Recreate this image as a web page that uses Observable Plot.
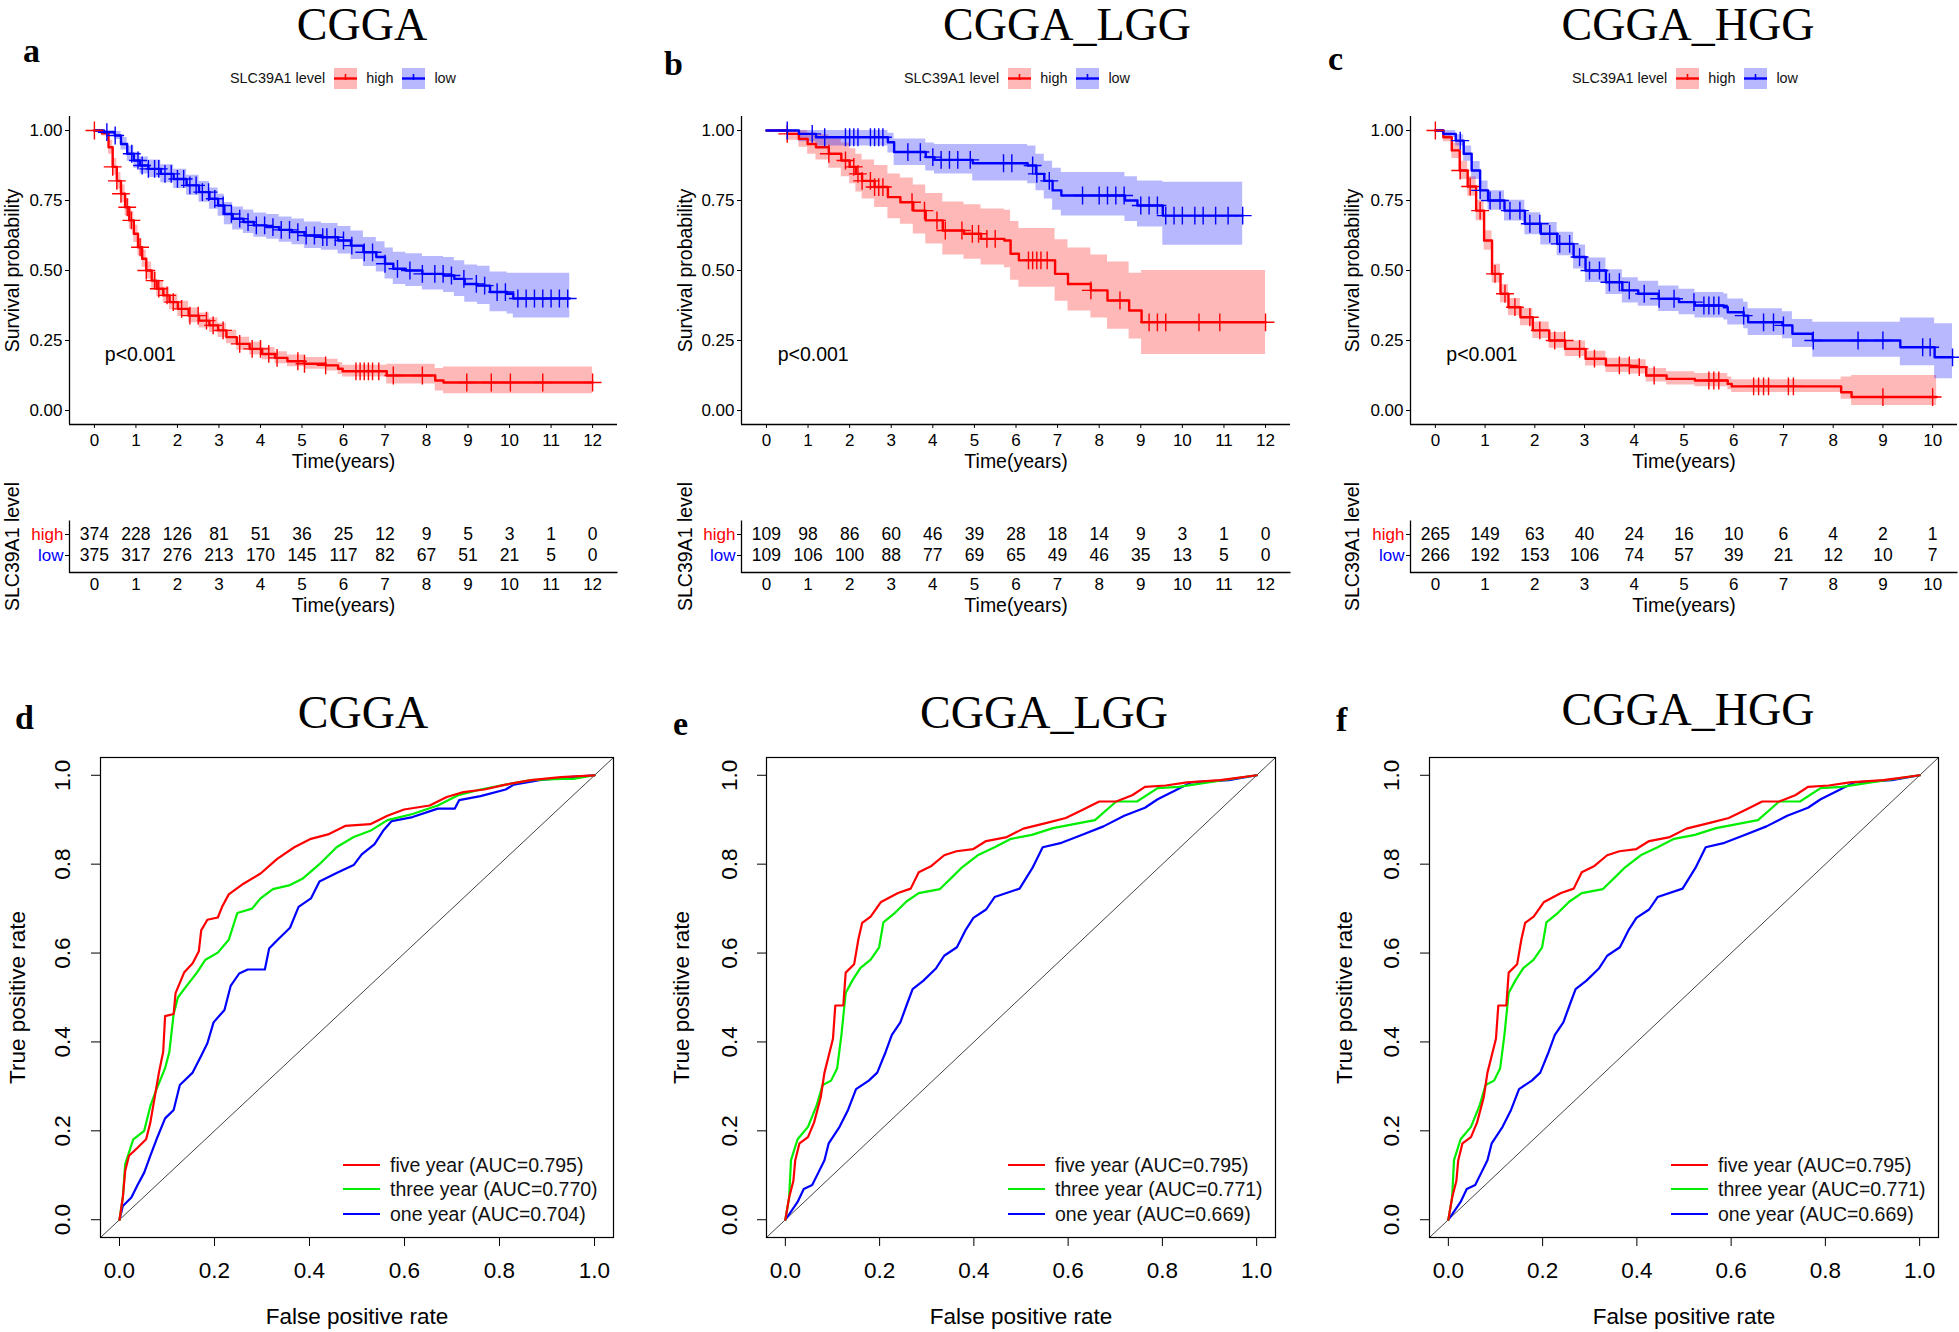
<!DOCTYPE html>
<html><head><meta charset="utf-8">
<script src="https://cdn.jsdelivr.net/npm/d3@7"></script>
<script src="https://cdn.jsdelivr.net/npm/@observablehq/plot@0.6"></script>
<style>
body{margin:0;background:#fff;}
#root{position:relative;width:1959px;height:1332px;background:#fff;overflow:hidden;}
</style></head><body><div id="root"></div>
<script>
// ---------- text ----------
const titles = ["CGGA", "CGGA_LGG", "CGGA_HGG"];
const letters = ["a", "b", "c", "d", "e", "f"];
const groups = ["high", "low"];
const legendTitle = "SLC39A1 level";
const xTitle = "Time(years)";
const yTitleKM = "Survival probability";
const pText = "p<0.001";
const pY = 0.2;
const rocXTitle = "False positive rate";
const rocYTitle = "True positive rate";
const rocLabelsD = ["five year (AUC=0.795)", "three year (AUC=0.770)", "one year (AUC=0.704)"];
const rocLabelsE = ["five year (AUC=0.795)", "three year (AUC=0.771)", "one year (AUC=0.669)"];
const rocLabelsF = ["five year (AUC=0.795)", "three year (AUC=0.771)", "one year (AUC=0.669)"];

// ---------- ticks ----------
const ticks12 = [0,1,2,3,4,5,6,7,8,9,10,11,12];
const ticks10 = [0,1,2,3,4,5,6,7,8,9,10];
const yTicksKM = [0, 0.25, 0.5, 0.75, 1];
const rocTicks = [0, 0.2, 0.4, 0.6, 0.8, 1.0];

// ---------- KM panel a (CGGA) ----------
const kmA_high_t  = [0,0.18,0.34,0.44,0.54,0.64,0.74,0.84,0.95,1.05,1.15,1.25,1.38,1.5,1.66,1.81,2.01,2.27,2.52,2.77,2.98,3.18,3.43,3.74,4.04,4.35,4.65,5.06,5.57,5.87,5.98,7.04,8.21,8.41,12.0];
const kmA_high_s  = [1,0.99,0.94,0.87,0.82,0.774,0.726,0.679,0.631,0.583,0.542,0.50,0.464,0.435,0.411,0.387,0.363,0.339,0.321,0.304,0.286,0.262,0.238,0.22,0.202,0.188,0.176,0.167,0.161,0.149,0.14,0.125,0.107,0.10,0.10];
const kmA_high_lo = [1,0.98,0.915,0.84,0.79,0.743,0.695,0.648,0.60,0.553,0.512,0.47,0.435,0.406,0.383,0.36,0.336,0.313,0.295,0.279,0.261,0.238,0.215,0.198,0.181,0.167,0.156,0.147,0.141,0.129,0.12,0.095,0.07,0.06,0.06];
const kmA_high_hi = [1,1,0.965,0.90,0.85,0.805,0.757,0.71,0.662,0.613,0.572,0.53,0.494,0.464,0.44,0.415,0.39,0.366,0.348,0.33,0.312,0.287,0.262,0.244,0.225,0.21,0.198,0.189,0.183,0.171,0.162,0.165,0.15,0.155,0.155];
const kmA_high_cens = [0,0.44,0.54,0.64,0.79,0.89,1.1,1.25,1.45,1.55,1.75,1.9,2.1,2.3,2.5,2.7,2.86,3.1,3.5,3.8,4.0,4.2,4.4,4.9,5.06,5.57,6.3,6.4,6.5,6.6,6.7,6.85,7.2,7.9,8.97,9.56,10.02,10.8,12.0];
const kmA_low_t  = [0,0.23,0.49,0.64,0.79,0.95,1.1,1.3,1.6,1.91,2.22,2.52,2.77,2.98,3.13,3.33,3.59,3.84,4.15,4.45,4.76,5.06,5.47,5.87,6.18,6.48,6.79,7.0,7.2,7.5,7.9,8.41,8.67,8.92,9.23,9.53,9.94,10.09,11.45];
const kmA_low_s  = [1,0.994,0.982,0.952,0.917,0.893,0.875,0.863,0.845,0.827,0.804,0.78,0.756,0.732,0.702,0.685,0.673,0.661,0.655,0.645,0.637,0.625,0.619,0.607,0.589,0.565,0.548,0.524,0.506,0.50,0.488,0.482,0.47,0.452,0.446,0.423,0.417,0.40,0.40];
const kmA_low_lo = [1,0.986,0.968,0.93,0.89,0.865,0.845,0.832,0.813,0.793,0.769,0.744,0.719,0.694,0.663,0.645,0.632,0.619,0.612,0.601,0.592,0.579,0.572,0.559,0.539,0.514,0.495,0.47,0.45,0.443,0.43,0.421,0.407,0.387,0.379,0.353,0.345,0.33,0.33];
const kmA_low_hi = [1,1,0.996,0.975,0.945,0.922,0.905,0.895,0.878,0.862,0.84,0.818,0.795,0.772,0.743,0.727,0.716,0.705,0.70,0.691,0.684,0.673,0.668,0.657,0.641,0.618,0.603,0.58,0.565,0.56,0.55,0.546,0.535,0.52,0.515,0.495,0.49,0.49,0.49];
const kmA_low_cens = [0.3,0.5,0.9,1.05,1.15,1.3,1.45,1.55,1.7,1.85,2.0,2.15,2.3,2.45,2.6,2.75,2.9,3.1,3.3,3.5,3.7,3.9,4.1,4.3,4.5,4.7,4.9,5.1,5.3,5.5,5.6,5.8,6.0,6.2,6.5,6.7,7.0,7.3,7.6,7.9,8.2,8.4,8.6,8.9,9.2,9.4,9.7,9.9,10.2,10.4,10.6,10.8,11.0,11.2,11.4];

// ---------- KM panel b (CGGA_LGG) ----------
const kmB_high_t  = [0,0.5,0.78,0.99,1.19,1.5,1.8,2.0,2.15,2.3,2.6,2.92,3.22,3.53,3.83,4.24,4.75,5.16,5.72,5.87,6.07,6.94,7.25,7.8,8.2,8.72,9.02,12.0];
const kmB_high_s  = [1,0.988,0.97,0.952,0.94,0.917,0.893,0.87,0.845,0.82,0.798,0.762,0.744,0.714,0.679,0.643,0.631,0.613,0.607,0.56,0.536,0.488,0.452,0.429,0.393,0.357,0.315,0.315];
const kmB_high_lo = [1,0.965,0.94,0.915,0.895,0.865,0.835,0.81,0.78,0.755,0.725,0.685,0.665,0.63,0.595,0.555,0.54,0.52,0.51,0.465,0.44,0.39,0.355,0.33,0.29,0.255,0.20,0.20];
const kmB_high_hi = [1,1,1,0.99,0.985,0.97,0.955,0.935,0.915,0.895,0.875,0.845,0.83,0.805,0.775,0.745,0.735,0.72,0.715,0.675,0.65,0.61,0.58,0.555,0.53,0.49,0.50,0.50];
const kmB_high_cens = [0.5,1.5,1.9,2.1,2.2,2.3,2.5,2.6,2.7,2.8,3.5,3.8,4.1,4.3,4.7,4.95,5.1,5.3,5.5,6.3,6.4,6.5,6.6,6.75,7.8,8.5,9.2,9.4,9.6,10.4,10.9,12.0];
const kmB_low_t  = [0,0.78,1.19,2.92,3.07,3.83,4.04,4.96,6.28,6.48,6.68,6.88,7.09,8.62,8.92,9.53,11.45];
const kmB_low_s  = [1,0.988,0.976,0.958,0.923,0.905,0.895,0.883,0.875,0.845,0.82,0.786,0.768,0.75,0.732,0.696,0.696];
const kmB_low_lo = [1,0.96,0.945,0.92,0.875,0.855,0.845,0.82,0.81,0.785,0.755,0.715,0.695,0.675,0.655,0.59,0.59];
const kmB_low_hi = [1,1,1,0.99,0.97,0.955,0.95,0.95,0.945,0.915,0.89,0.865,0.85,0.835,0.82,0.815,0.815];
const kmB_low_cens = [0.5,1.1,1.4,1.9,2.0,2.1,2.2,2.5,2.6,2.7,2.8,3.4,3.7,4.0,4.2,4.4,4.6,4.9,5.7,5.9,6.4,6.5,6.8,7.6,8.0,8.2,8.4,8.6,9.0,9.2,9.4,9.6,9.8,10.0,10.3,10.5,10.8,11.1,11.45];

// ---------- KM panel c (CGGA_HGG) ----------
const kmC_high_t  = [0,0.16,0.33,0.49,0.65,0.82,0.98,1.14,1.31,1.47,1.71,1.96,2.29,2.61,3.02,3.43,3.92,4.24,4.65,5.22,5.88,5.96,8.16,8.37,10.08];
const kmC_high_s  = [1,0.976,0.929,0.857,0.80,0.714,0.607,0.488,0.417,0.369,0.333,0.286,0.25,0.22,0.185,0.161,0.155,0.125,0.113,0.107,0.095,0.086,0.065,0.048,0.048];
const kmC_high_lo = [1,0.96,0.9,0.825,0.765,0.678,0.572,0.455,0.385,0.338,0.303,0.257,0.222,0.193,0.159,0.136,0.13,0.102,0.091,0.085,0.074,0.064,0.04,0.018,0.018];
const kmC_high_hi = [1,0.99,0.955,0.89,0.835,0.75,0.642,0.522,0.45,0.40,0.364,0.316,0.279,0.248,0.212,0.187,0.181,0.15,0.138,0.132,0.12,0.11,0.12,0.125,0.125];
const kmC_high_cens = [0,0.5,0.7,0.9,1.2,1.4,1.6,1.9,2.1,2.4,2.6,2.9,3.2,3.7,3.9,4.1,4.4,5.5,5.6,5.7,6.4,6.5,6.6,6.7,7.1,7.2,9.0,10.0];
const kmC_low_t  = [0,0.16,0.41,0.57,0.73,0.9,1.06,1.39,1.8,2.12,2.45,2.78,3.02,3.43,3.76,4.08,4.49,4.9,5.22,5.8,5.88,6.2,6.29,6.98,7.18,7.59,9.35,10.04,10.4];
const kmC_low_s  = [1,0.988,0.964,0.917,0.857,0.786,0.75,0.714,0.667,0.631,0.595,0.548,0.50,0.458,0.429,0.417,0.399,0.387,0.375,0.369,0.351,0.339,0.315,0.304,0.274,0.25,0.226,0.19,0.19];
const kmC_low_lo = [1,0.975,0.945,0.89,0.825,0.752,0.715,0.677,0.628,0.591,0.553,0.505,0.457,0.414,0.384,0.372,0.354,0.342,0.33,0.323,0.305,0.292,0.268,0.256,0.225,0.19,0.16,0.113,0.113];
const kmC_low_hi = [1,1,0.985,0.945,0.889,0.82,0.785,0.751,0.706,0.671,0.637,0.591,0.545,0.503,0.474,0.462,0.445,0.433,0.421,0.416,0.398,0.387,0.363,0.353,0.325,0.315,0.33,0.31,0.31];
const kmC_low_cens = [0.5,0.9,1.1,1.3,1.5,1.7,1.9,2.1,2.3,2.5,2.7,2.9,3.1,3.3,3.5,3.7,3.9,4.2,4.5,4.8,5.2,5.4,5.5,5.6,5.7,6.2,6.6,6.8,7.0,7.6,8.5,9.0,9.8,9.95,10.4];

// ---------- numbers at risk ----------
const riskA_high = [374,228,126,81,51,36,25,12,9,5,3,1,0];
const riskA_low  = [375,317,276,213,170,145,117,82,67,51,21,5,0];
const riskB_high = [109,98,86,60,46,39,28,18,14,9,3,1,0];
const riskB_low  = [109,106,100,88,77,69,65,49,46,35,13,5,0];
const riskC_high = [265,149,63,40,24,16,10,6,4,2,1];
const riskC_low  = [266,192,153,106,74,57,39,21,12,10,7];

// ---------- ROC curves [FPR, TPR] ----------
const rocD_five = [[0,0],[0.007,0.05],[0.012,0.11],[0.02,0.144],[0.038,0.162],[0.056,0.181],[0.065,0.219],[0.074,0.275],[0.083,0.331],[0.092,0.378],[0.096,0.458],[0.114,0.463],[0.118,0.51],[0.136,0.556],[0.154,0.577],[0.167,0.604],[0.172,0.651],[0.185,0.675],[0.207,0.68],[0.216,0.704],[0.23,0.732],[0.261,0.756],[0.297,0.779],[0.332,0.812],[0.368,0.838],[0.403,0.857],[0.439,0.867],[0.475,0.886],[0.528,0.89],[0.564,0.909],[0.599,0.923],[0.653,0.932],[0.689,0.951],[0.724,0.962],[0.768,0.968],[0.813,0.979],[0.866,0.989],[0.929,0.996],[1,1]];
const rocD_three = [[0,0],[0.007,0.05],[0.012,0.125],[0.029,0.181],[0.052,0.2],[0.065,0.256],[0.078,0.294],[0.096,0.341],[0.105,0.378],[0.114,0.463],[0.123,0.5],[0.136,0.519],[0.163,0.556],[0.181,0.585],[0.207,0.601],[0.23,0.63],[0.248,0.69],[0.279,0.7],[0.297,0.723],[0.323,0.744],[0.359,0.753],[0.385,0.767],[0.421,0.8],[0.457,0.838],[0.493,0.861],[0.528,0.875],[0.564,0.899],[0.617,0.913],[0.67,0.932],[0.715,0.956],[0.76,0.968],[0.813,0.979],[0.866,0.989],[0.929,0.992],[0.955,0.992],[1,1]];
const rocD_one = [[0,0],[0.007,0.031],[0.025,0.05],[0.038,0.078],[0.052,0.106],[0.065,0.144],[0.078,0.181],[0.096,0.228],[0.114,0.247],[0.127,0.303],[0.154,0.331],[0.172,0.369],[0.185,0.397],[0.198,0.444],[0.221,0.472],[0.234,0.526],[0.252,0.554],[0.27,0.563],[0.306,0.563],[0.315,0.61],[0.332,0.629],[0.359,0.657],[0.377,0.704],[0.403,0.723],[0.421,0.761],[0.457,0.78],[0.493,0.798],[0.51,0.822],[0.537,0.845],[0.555,0.875],[0.573,0.897],[0.617,0.906],[0.67,0.925],[0.706,0.925],[0.715,0.944],[0.76,0.953],[0.813,0.968],[0.83,0.979],[0.884,0.989],[0.946,0.996],[1,1]];
const rocE_five = [[0,0],[0.008,0.05],[0.017,0.087],[0.021,0.134],[0.03,0.172],[0.048,0.186],[0.061,0.219],[0.075,0.275],[0.083,0.331],[0.092,0.369],[0.101,0.407],[0.106,0.482],[0.123,0.482],[0.128,0.556],[0.146,0.575],[0.155,0.631],[0.163,0.668],[0.181,0.682],[0.203,0.715],[0.239,0.735],[0.266,0.745],[0.283,0.782],[0.31,0.796],[0.337,0.82],[0.363,0.829],[0.399,0.834],[0.426,0.852],[0.47,0.861],[0.505,0.88],[0.559,0.894],[0.595,0.904],[0.63,0.922],[0.666,0.941],[0.702,0.941],[0.736,0.955],[0.763,0.974],[0.807,0.977],[0.852,0.984],[0.923,0.989],[1,1]];
const rocE_three = [[0,0],[0.008,0.05],[0.012,0.134],[0.026,0.181],[0.048,0.209],[0.066,0.256],[0.079,0.303],[0.097,0.313],[0.11,0.341],[0.119,0.416],[0.128,0.51],[0.142,0.538],[0.159,0.566],[0.181,0.585],[0.199,0.613],[0.208,0.669],[0.23,0.688],[0.257,0.716],[0.283,0.735],[0.328,0.744],[0.355,0.772],[0.373,0.791],[0.408,0.82],[0.444,0.838],[0.479,0.857],[0.523,0.866],[0.568,0.881],[0.612,0.89],[0.657,0.899],[0.702,0.941],[0.746,0.941],[0.79,0.971],[0.835,0.974],[0.897,0.984],[1,1]];
const rocE_one = [[0,0],[0.008,0.012],[0.026,0.04],[0.039,0.069],[0.057,0.078],[0.07,0.106],[0.083,0.134],[0.092,0.172],[0.115,0.209],[0.133,0.247],[0.15,0.294],[0.177,0.313],[0.195,0.331],[0.213,0.378],[0.226,0.416],[0.244,0.444],[0.257,0.482],[0.27,0.519],[0.293,0.538],[0.32,0.566],[0.337,0.594],[0.364,0.613],[0.382,0.651],[0.399,0.679],[0.426,0.698],[0.444,0.726],[0.497,0.745],[0.524,0.791],[0.546,0.838],[0.586,0.848],[0.63,0.866],[0.675,0.885],[0.719,0.909],[0.763,0.927],[0.79,0.946],[0.826,0.965],[0.861,0.984],[0.941,0.989],[1,1]];
// panel f shows the same curves as panel e
const rocF_five = rocE_five, rocF_three = rocE_three, rocF_one = rocE_one;
const rocDomain = [-0.04, 1.04];

// ---------- drawing ----------
const RED = "#FF0000", BLUE = "#0000FF", GREEN = "#00EE00";
const SANS = "'Liberation Sans', Arial, sans-serif";
const SERIF = "'Liberation Serif', 'Times New Roman', serif";
const baseStyle = {background: "transparent", color: "black", fontFamily: SANS, fontSize: "17px", overflow: "visible", maxWidth: "none"};
const root = document.getElementById("root");

function place(el, left, top) {
  const w = document.createElement("div");
  w.style.position = "absolute"; w.style.left = left + "px"; w.style.top = top + "px";
  w.appendChild(el); root.appendChild(w); return w;
}
function kmRows(t, s, lo, hi) { return t.map((v, i) => ({t: v, s: s[i], lo: lo[i], hi: hi[i]})); }
function survAt(x, ts, ss) { let v = ss[0]; for (let i = 0; i < ts.length; i++) if (ts[i] <= x + 1e-9) v = ss[i]; return v; }

function kmPlot(p) {
  const xd = [-p.xmax * 0.05, p.xmax * 1.05];
  const H = kmRows(p.high.t, p.high.s, p.high.lo, p.high.hi);
  const L = kmRows(p.low.t, p.low.s, p.low.lo, p.low.hi);
  return Plot.plot({
    width: p.width, height: 380, marginLeft: p.ml, marginRight: p.mr, marginTop: 16, marginBottom: 56,
    x: {domain: xd}, y: {domain: [-0.05, 1.05]}, style: baseStyle,
    marks: [
      Plot.areaY(H, {x: "t", y1: "lo", y2: "hi", curve: "step-after", fill: RED, fillOpacity: 0.28}),
      Plot.areaY(L, {x: "t", y1: "lo", y2: "hi", curve: "step-after", fill: BLUE, fillOpacity: 0.28}),
      Plot.line(H, {x: "t", y: "s", curve: "step-after", stroke: RED, strokeWidth: 2.4}),
      Plot.line(L, {x: "t", y: "s", curve: "step-after", stroke: BLUE, strokeWidth: 2.4}),
      Plot.dot(p.high.cens, {x: d => d, y: d => survAt(d, p.high.t, p.high.s), symbol: "plus", r: 5.8, stroke: RED, strokeWidth: 1.4}),
      Plot.dot(p.low.cens, {x: d => d, y: d => survAt(d, p.low.t, p.low.s), symbol: "plus", r: 5.8, stroke: BLUE, strokeWidth: 1.4}),
      Plot.ruleX([xd[0]], {stroke: "black", strokeWidth: 1.3}),
      Plot.ruleY([-0.05], {stroke: "black", strokeWidth: 1.3}),
      Plot.axisX({ticks: p.ticks, tickSize: 4, tickPadding: 5, fontSize: 17, label: null}),
      Plot.axisY({ticks: yTicksKM, tickFormat: d3.format(".2f"), tickSize: 4, tickPadding: 3, fontSize: 17, label: null}),
      Plot.text([xTitle], {frameAnchor: "bottom", dy: 43, text: d => d, fontSize: 19.5}),
      Plot.text([yTitleKM], {frameAnchor: "left", dx: -p.ytdx, rotate: -90, textAnchor: "middle", text: d => d, fontSize: 19.5}),
      Plot.text([pText], {x: p.pX, y: pY, text: d => d, textAnchor: "start", fontSize: 19.5})
    ]
  });
}

function riskPlot(p) {
  const xd = [-p.xmax * 0.05, p.xmax * 1.05];
  const rows = p.ticks.flatMap((t, i) => [{t, g: groups[0], n: p.high[i]}, {t, g: groups[1], n: p.low[i]}]);
  const fw = p.width - p.ml - p.mr, fh = 150 - 50 - 48;
  return Plot.plot({
    width: p.width, height: 150, marginLeft: p.ml, marginRight: p.mr, marginTop: 50, marginBottom: 48,
    x: {domain: xd}, y: {type: "point", domain: groups, range: [64, 85], padding: 0}, style: baseStyle,
    marks: [
      Plot.frame({stroke: "black", strokeWidth: 1.3, strokeDasharray: `0 ${fw + fh} ${fw + fh} 0`}),
      Plot.text(rows, {x: "t", y: "g", text: d => String(d.n), fontSize: 17.5}),
      Plot.axisY({ticks: [groups[0]], fill: RED, tickSize: 4, tickPadding: 2, fontSize: 17, label: null}),
      Plot.axisY({ticks: [groups[1]], fill: BLUE, tickSize: 4, tickPadding: 2, fontSize: 17, label: null}),
      Plot.axisX({ticks: p.ticks, tickSize: 0, tickPadding: 5, fontSize: 17, label: null}),
      Plot.text([xTitle], {frameAnchor: "bottom", dy: 39, text: d => d, fontSize: 19.5}),
      Plot.text([legendTitle], {frameAnchor: "left", dx: -p.ytdx, rotate: -90, textAnchor: "middle", text: d => d, fontSize: 19.5})
    ]
  });
}

function rocPlot(p) {
  return Plot.plot({
    width: p.width, height: 592, marginLeft: p.ml, marginRight: p.mr, marginTop: 17, marginBottom: 95,
    x: {domain: rocDomain}, y: {domain: rocDomain}, style: baseStyle,
    marks: [
      Plot.line(rocDomain, {x: d => d, y: d => d, stroke: "#444", strokeWidth: 1}),
      Plot.line(p.one, {x: d => d[0], y: d => d[1], stroke: BLUE, strokeWidth: 2.2}),
      Plot.line(p.three, {x: d => d[0], y: d => d[1], stroke: GREEN, strokeWidth: 2.2}),
      Plot.line(p.five, {x: d => d[0], y: d => d[1], stroke: RED, strokeWidth: 2.2}),
      Plot.frame({stroke: "black", strokeWidth: 1.2}),
      Plot.axisX({ticks: rocTicks, tickFormat: d3.format(".1f"), tickSize: 9, tickPadding: 16, fontSize: 22.5, label: null}),
      Plot.axisY({ticks: rocTicks, tickFormat: () => "", tickSize: 9, label: null}),
      Plot.text(rocTicks, {y: d => d, text: d3.format(".1f"), frameAnchor: "left", dx: -p.tdx, rotate: -90, textAnchor: "middle", fontSize: 22.5}),
      Plot.text([rocXTitle], {frameAnchor: "bottom", dy: 86, text: d => d, fontSize: 22.5}),
      Plot.text([rocYTitle], {frameAnchor: "left", dx: -p.ytdx, rotate: -90, textAnchor: "middle", text: d => d, fontSize: 22.5})
    ]
  });
}

// KM panels
const kmCols = [
  {left: 0, width: 640, ml: 69, mr: 23, xmax: 12, ticks: ticks12, ytdx: 57, pX: 0.25,
   high: {t: kmA_high_t, s: kmA_high_s, lo: kmA_high_lo, hi: kmA_high_hi, cens: kmA_high_cens},
   low: {t: kmA_low_t, s: kmA_low_s, lo: kmA_low_lo, hi: kmA_low_hi, cens: kmA_low_cens},
   riskHigh: riskA_high, riskLow: riskA_low},
  {left: 660, width: 640, ml: 81, mr: 10, xmax: 12, ticks: ticks12, ytdx: 56, pX: 0.27,
   high: {t: kmB_high_t, s: kmB_high_s, lo: kmB_high_lo, hi: kmB_high_hi, cens: kmB_high_cens},
   low: {t: kmB_low_t, s: kmB_low_s, lo: kmB_low_lo, hi: kmB_low_hi, cens: kmB_low_cens},
   riskHigh: riskB_high, riskLow: riskB_low},
  {left: 1330, width: 629, ml: 80, mr: 2, xmax: 10, ticks: ticks10, ytdx: 58, pX: 0.22,
   high: {t: kmC_high_t, s: kmC_high_s, lo: kmC_high_lo, hi: kmC_high_hi, cens: kmC_high_cens},
   low: {t: kmC_low_t, s: kmC_low_s, lo: kmC_low_lo, hi: kmC_low_hi, cens: kmC_low_cens},
   riskHigh: riskC_high, riskLow: riskC_low}
];
for (const c of kmCols) {
  place(kmPlot(c), c.left, 100);
  place(riskPlot({...c, high: c.riskHigh, low: c.riskLow}), c.left, 470);
}

// ROC panels
const rocCols = [
  {left: 0, width: 640, ml: 100, mr: 27, tdx: 38, ytdx: 83, five: rocD_five, three: rocD_three, one: rocD_one, labels: rocLabelsD, lx: 343},
  {left: 660, width: 640, ml: 106, mr: 25, tdx: 37, ytdx: 85, five: rocE_five, three: rocE_three, one: rocE_one, labels: rocLabelsE, lx: 1008},
  {left: 1320, width: 639, ml: 109, mr: 21, tdx: 38, ytdx: 85, five: rocF_five, three: rocF_three, one: rocF_one, labels: rocLabelsF, lx: 1671}
];
for (const c of rocCols) place(rocPlot(c), c.left, 740);

// ---------- HTML titles, letters, legends ----------
function serifText(str, size, weight, cx, baseline, align) {
  const d = document.createElement("div");
  d.textContent = str;
  d.style.cssText = `font-family:${SERIF};font-size:${size}px;font-weight:${weight};line-height:0.8;white-space:nowrap;color:#000;` +
    (align === "center" ? "width:600px;text-align:center;" : "");
  place(d, align === "center" ? cx - 300 : cx, baseline - 0.7375 * size);
}
const titleX1 = [362, 1067, 1688], titleB1 = [41, 41, 41];
const titleX2 = [363, 1044, 1688], titleB2 = [729, 729, 726];
titles.forEach((t, i) => { serifText(t, 46, 400, titleX1[i], titleB1[i], "center"); serifText(t, 46, 400, titleX2[i], titleB2[i], "center"); });
const letterX = [23, 664, 1328, 15, 673, 1336], letterB = [62, 75, 70, 729, 735, 731];
letters.forEach((l, i) => serifText(l, 34, 700, letterX[i], letterB[i], "start"));

// KM legends
function keySvg(color) {
  return `<svg width="23" height="21" style="display:block"><rect x="0" y="0" width="23" height="21" fill="${color}" fill-opacity="0.28"/>` +
    `<line x1="0" x2="23" y1="10.5" y2="10.5" stroke="${color}" stroke-width="2.4"/>` +
    `<line x1="11.5" x2="11.5" y1="6" y2="12" stroke="${color}" stroke-width="1.6"/></svg>`;
}
const legendLeft = [230, 904, 1572];
legendLeft.forEach(x => {
  const d = document.createElement("div");
  d.style.cssText = `display:flex;align-items:center;height:22px;font-family:${SANS};font-size:14.4px;color:#111;white-space:nowrap;`;
  d.innerHTML = `<span style="margin-right:9px">${legendTitle}</span>${keySvg(RED)}<span style="margin:0 9px">${groups[0]}</span>${keySvg(BLUE)}<span style="margin-left:9px">${groups[1]}</span>`;
  place(d, x, 67);
});

// ROC legends
const rocLegendColors = [RED, GREEN, BLUE];
const rocLegendY = [1165, 1189, 1214];
rocCols.forEach(c => {
  c.labels.forEach((lab, i) => {
    const d = document.createElement("div");
    d.style.cssText = `display:flex;align-items:center;height:24px;font-family:${SANS};font-size:19.5px;color:#111;white-space:nowrap;`;
    d.innerHTML = `<span style="display:inline-block;width:37px;height:0;border-top:2.6px solid ${rocLegendColors[i]};margin-right:10px"></span><span>${lab}</span>`;
    place(d, c.lx, rocLegendY[i] - 12);
  });
});
</script></body></html>
